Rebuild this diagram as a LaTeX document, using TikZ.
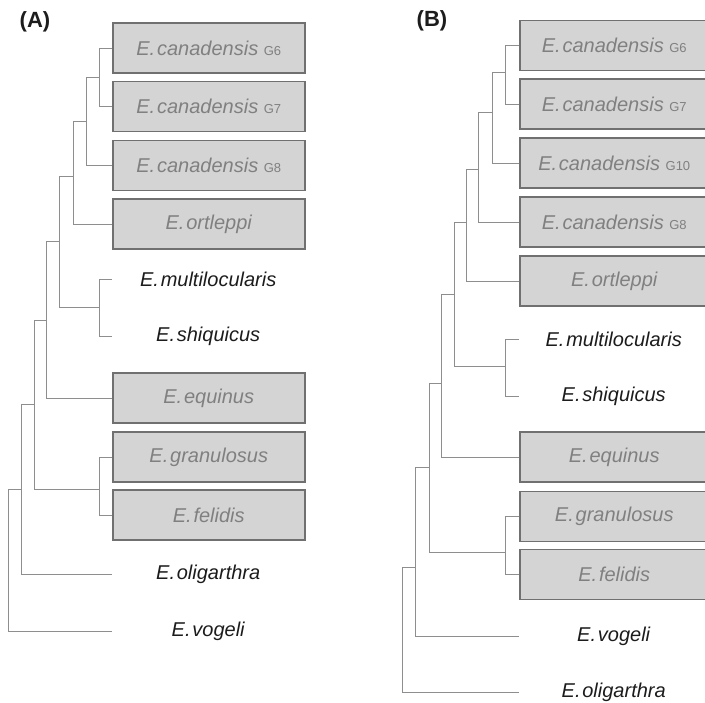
\documentclass[tikz,border=0pt]{standalone}
\usepackage{fontspec}
\setmainfont{Liberation Sans}
\definecolor{boxfill}{HTML}{D4D4D4}
\definecolor{boxline}{HTML}{707070}
\definecolor{boxtext}{HTML}{808080}
\definecolor{leaftext}{HTML}{1C1C1C}
\definecolor{treeline}{HTML}{8E8E8E}
\newcommand\Ename[1]{E.\hspace{1.8pt}#1}
\newcommand\Gtag[1]{\hspace{5.5pt}{\fontsize{13}{14}\selectfont\upshape #1}}
\begin{document}
\begin{tikzpicture}[x=1pt,y=-1pt,
  leaf/.style={anchor=west, minimum height=50pt, inner sep=0pt,
    font=\fontsize{20}{22}\selectfont\itshape},
  greybox/.style={leaf, draw=boxline, line width=1.5pt, fill=boxfill, text=boxtext},
  plainleaf/.style={leaf, text=leaftext},
  wA/.style={minimum width=192pt},
  wB/.style={minimum width=189pt},
  tree/.style={draw=treeline, line width=0.9pt},
  panel/.style={font=\fontsize{22}{24}\selectfont\bfseries, text=leaftext, inner sep=0pt}]
\useasboundingbox (0,0) rectangle (705,703);

% panel labels
\node[panel] (labA) at (35,22) {(A)};
\node[panel] (labB) at (432,21) {(B)};

% ---------- Panel A leaves ----------
\node[greybox,wA] (cA6) at (112,48) {\Ename{canadensis}\Gtag{G6}};
\node[greybox,wA] (cA7) at (112,106.5) {\Ename{canadensis}\Gtag{G7}};
\node[greybox,wA] (cA8) at (112,165.5) {\Ename{canadensis}\Gtag{G8}};
\node[greybox,wA] (ortA) at (112,224) {\Ename{ortleppi}};
\node[plainleaf,wA] (multA) at (112,279) {\Ename{multilocularis}};
\node[plainleaf,wA] (shiqA) at (112,336) {\Ename{shiquicus}};
\node[greybox,wA] (equA) at (112,398) {\Ename{equinus}};
\node[greybox,wA] (granA) at (112,457) {\Ename{granulosus}};
\node[greybox,wA] (felA) at (112,515) {\Ename{felidis}};
\node[plainleaf,wA] (oligA) at (112,574) {\Ename{oligarthra}};
\node[plainleaf,wA] (vogA) at (112,631) {\Ename{vogeli}};

% ---------- Panel A internal nodes ----------
\coordinate (a1) at (99,77);
\coordinate (a2) at (86,121);
\coordinate (a3) at (73,176);
\coordinate (a4) at (99,307);
\coordinate (a5) at (59,241);
\coordinate (a6) at (46,320);
\coordinate (a7) at (99,489);
\coordinate (a8) at (34,404);
\coordinate (a9) at (21,489);
\coordinate (a10) at (8,560);

\draw[tree] (a1) |- (cA6.west) (a1) |- (cA7.west);
\draw[tree] (a2) |- (a1) (a2) |- (cA8.west);
\draw[tree] (a3) |- (a2) (a3) |- (ortA.west);
\draw[tree] (a4) |- (multA.west) (a4) |- (shiqA.west);
\draw[tree] (a5) |- (a3) (a5) |- (a4);
\draw[tree] (a6) |- (a5) (a6) |- (equA.west);
\draw[tree] (a7) |- (granA.west) (a7) |- (felA.west);
\draw[tree] (a8) |- (a6) (a8) |- (a7);
\draw[tree] (a9) |- (a8) (a9) |- (oligA.west);
\draw[tree] (a10) |- (a9) (a10) |- (vogA.west);

% ---------- Panel B leaves ----------
\node[greybox,wB] (cB6) at (519,45.5) {\Ename{canadensis}\Gtag{G6}};
\node[greybox,wB] (cB7) at (519,104) {\Ename{canadensis}\Gtag{G7}};
\node[greybox,wB] (cB10) at (519,163) {\Ename{canadensis}\Gtag{G10}};
\node[greybox,wB] (cB8) at (519,222) {\Ename{canadensis}\Gtag{G8}};
\node[greybox,wB] (ortB) at (519,281) {\Ename{ortleppi}};
\node[plainleaf,wB] (multB) at (519,339) {\Ename{multilocularis}};
\node[plainleaf,wB] (shiqB) at (519,396) {\Ename{shiquicus}};
\node[greybox,wB] (equB) at (519,457) {\Ename{equinus}};
\node[greybox,wB] (granB) at (519,516.5) {\Ename{granulosus}};
\node[greybox,wB] (felB) at (519,574.5) {\Ename{felidis}};
\node[plainleaf,wB] (vogB) at (519,636) {\Ename{vogeli}};
\node[plainleaf,wB] (oligB) at (519,692) {\Ename{oligarthra}};

% ---------- Panel B internal nodes ----------
\coordinate (b1) at (505,72);
\coordinate (b2) at (492,112);
\coordinate (b3) at (478,169);
\coordinate (b4) at (466,222);
\coordinate (b5) at (505,366);
\coordinate (b6) at (454,294);
\coordinate (b7) at (441,383);
\coordinate (b8) at (505,552);
\coordinate (b9) at (429,467);
\coordinate (b10) at (415,567);
\coordinate (b11) at (402,640);

\draw[tree] (b1) |- (cB6.west) (b1) |- (cB7.west);
\draw[tree] (b2) |- (b1) (b2) |- (cB10.west);
\draw[tree] (b3) |- (b2) (b3) |- (cB8.west);
\draw[tree] (b4) |- (b3) (b4) |- (ortB.west);
\draw[tree] (b5) |- (multB.west) (b5) |- (shiqB.west);
\draw[tree] (b6) |- (b4) (b6) |- (b5);
\draw[tree] (b7) |- (b6) (b7) |- (equB.west);
\draw[tree] (b8) |- (granB.west) (b8) |- (felB.west);
\draw[tree] (b9) |- (b7) (b9) |- (b8);
\draw[tree] (b10) |- (b9) (b10) |- (vogB.west);
\draw[tree] (b11) |- (b10) (b11) |- (oligB.west);
\end{tikzpicture}
\end{document}
